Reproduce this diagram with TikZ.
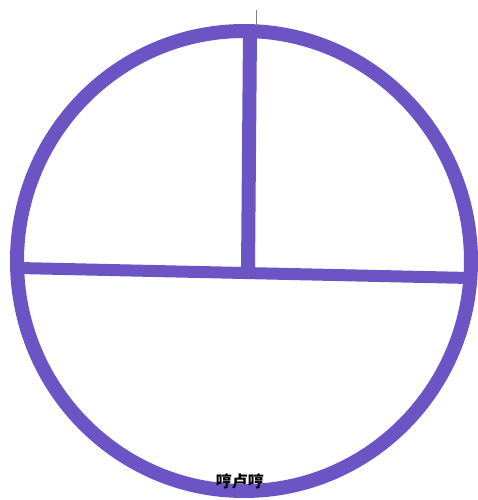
\documentclass[tikz,border=0pt]{standalone}
\usepackage{fontspec}
\newfontfamily\cjk{Noto Sans CJK SC}
\usetikzlibrary{positioning}
\definecolor{penpurple}{RGB}{108,84,196}
\tikzset{stroke/.style={penpurple, line width=7pt, line cap=round}}
\begin{document}
\begin{tikzpicture}[x=0.5pt, y=-0.5pt]
    \useasboundingbox (0,0) rectangle (478,500);
    % Circle
    \draw[stroke] (244,261) ellipse [x radius=227, y radius=230];

    % Diameter and radius
    \coordinate (west) at (19,268);
    \coordinate (east) at (470,278);
    \coordinate (top) at (250,31);
    \coordinate (centre) at (248,272);
    \draw[stroke, line width=6pt] (west) -- (east);
    \draw[stroke] (top) -- (centre);

    % Tick above the circle
    \coordinate (tickA) at (257,10);
    \coordinate (tickB) at (257,26);
    \draw[gray, line width=0.5pt] (tickA) -- (tickB);

    % Label at the bottom
    \node[font=\cjk\fontsize{8}{9}\selectfont\bfseries, inner sep=0pt] (label) at (240,481) {哼卢哼};
\end{tikzpicture}
\end{document}
